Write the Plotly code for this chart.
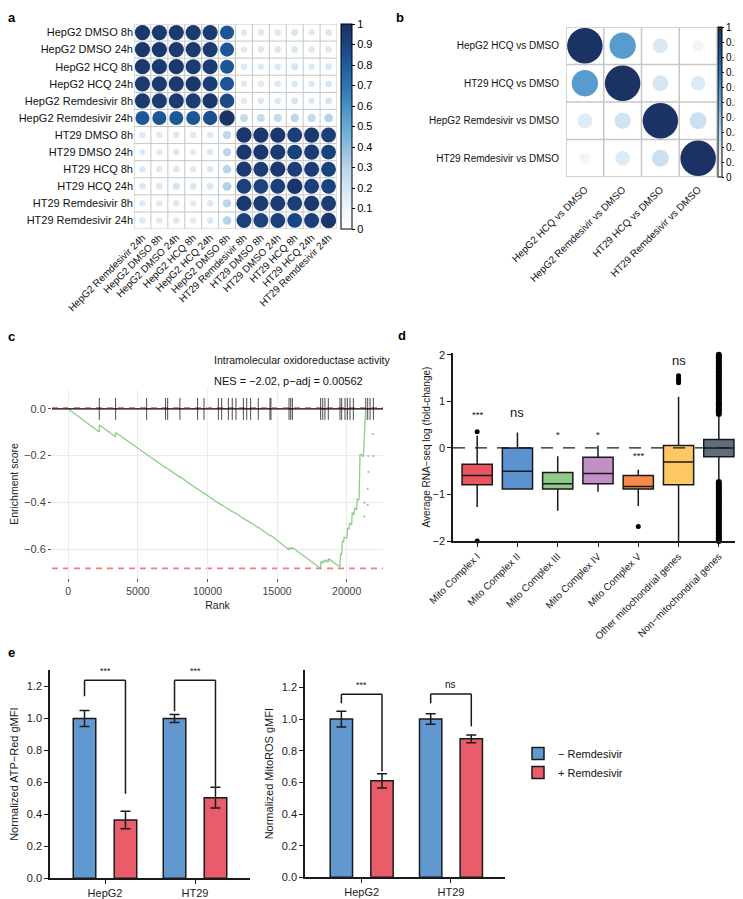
import plotly.graph_objects as go

# page is 743x899; the plot div sits 8px in from the page corner
PAGE_W, PAGE_H = 743, 899
OFF = 8
W, H = PAGE_W - OFF, PAGE_H - OFF
FONT = "Arial, Liberation Sans, Helvetica, sans-serif"

# ---------------- data: panel a ----------------
a_rows = ["HepG2 DMSO 8h", "HepG2 DMSO 24h", "HepG2 HCQ 8h", "HepG2 HCQ 24h",
          "HepG2 Remdesivir 8h", "HepG2 Remdesivir 24h", "HT29 DMSO 8h", "HT29 DMSO 24h",
          "HT29 HCQ 8h", "HT29 HCQ 24h", "HT29 Remdesivir 8h", "HT29 Remdesivir 24h"]
a_cols = ["HepG2 Remdesivir 24h", "HepG2 DMSO 8h", "HepG2 DMSO 24h", "HepG2 HCQ 8h",
          "HepG2 HCQ 24h", "HepG2 DMSO 8h", "HT29 Remdesivir 8h", "HT29 DMSO 8h",
          "HT29 DMSO 24h", "HT29 HCQ 8h", "HT29 HCQ 24h", "HT29 Remdesivir 24h"]
a_corr = [
    [0.97, 0.96, 0.96, 0.96, 0.95, 0.83, 0.17, 0.18, 0.18, 0.20, 0.18, 0.19],
    [0.97, 0.97, 0.96, 0.96, 0.95, 0.83, 0.17, 0.18, 0.18, 0.19, 0.18, 0.18],
    [0.97, 0.96, 0.97, 0.95, 0.95, 0.82, 0.18, 0.18, 0.18, 0.20, 0.18, 0.19],
    [0.96, 0.96, 0.96, 0.97, 0.94, 0.83, 0.17, 0.17, 0.18, 0.19, 0.18, 0.19],
    [0.96, 0.95, 0.95, 0.94, 0.98, 0.88, 0.17, 0.18, 0.18, 0.20, 0.18, 0.20],
    [0.82, 0.83, 0.82, 0.82, 0.86, 0.99, 0.26, 0.26, 0.27, 0.29, 0.27, 0.31],
    [0.17, 0.17, 0.18, 0.17, 0.18, 0.28, 0.98, 0.97, 0.97, 0.93, 0.96, 0.93],
    [0.17, 0.17, 0.18, 0.17, 0.18, 0.29, 0.97, 0.97, 0.96, 0.92, 0.95, 0.92],
    [0.18, 0.17, 0.18, 0.17, 0.18, 0.30, 0.96, 0.94, 0.97, 0.93, 0.94, 0.92],
    [0.18, 0.18, 0.21, 0.19, 0.19, 0.32, 0.92, 0.91, 0.93, 0.98, 0.92, 0.91],
    [0.17, 0.17, 0.18, 0.17, 0.18, 0.30, 0.97, 0.95, 0.95, 0.93, 0.97, 0.94],
    [0.17, 0.17, 0.18, 0.17, 0.18, 0.31, 0.92, 0.91, 0.92, 0.90, 0.93, 0.98],
]

# ---------------- data: panel b ----------------
b_rows = ["HepG2 HCQ vs DMSO", "HT29 HCQ vs DMSO", "HepG2 Remdesivir vs DMSO", "HT29 Remdesivir vs DMSO"]
b_cols = ["HepG2 HCQ vs DMSO", "HepG2 Remdesivir vs DMSO", "HT29 HCQ vs DMSO", "HT29 Remdesivir vs DMSO"]
b_corr = [
    [1.00, 0.55, 0.18, 0.10],
    [0.55, 1.00, 0.20, 0.17],
    [0.17, 0.21, 1.00, 0.23],
    [0.10, 0.17, 0.23, 1.00],
]
cbar_ticks = [0, 0.1, 0.2, 0.3, 0.4, 0.5, 0.6, 0.7, 0.8, 0.9, 1]
cbar_text = ["0", "0.1", "0.2", "0.3", "0.4", "0.5", "0.6", "0.7", "0.8", "0.9", "1"]

# ---------------- data: panel c ----------------
c_title = "Intramolecular oxidoreductase activity"
c_subtitle = "NES = \u22122.02, p\u2212adj = 0.00562"
c_xticks = [0, 5000, 10000, 15000, 20000]
es_rank = [0, 2228, 2228, 3400, 3400, 5630, 5630, 6990, 6990, 7140, 7140, 8020, 8020,
           9290, 9290, 9750, 9750, 10780, 10780, 11020, 11020, 11500, 11500, 11780, 11780,
           12050, 12050, 12580, 12580, 12820, 12820, 13100, 13100, 13650, 13650, 14490, 14490,
           14560, 14560, 15860, 15860, 15980, 15980, 16100, 16100, 18130, 18130, 18280, 18280,
           18440, 18440, 18680, 18680, 19520, 19560, 19640, 19700, 19780, 19820, 20020, 20060,
           20170, 20200, 20360, 20400, 20530, 20580, 20720, 20760, 20890, 20960, 21030, 21200, 21370]
es_score = [0.0, -0.099, -0.069, -0.119, -0.101, -0.196, -0.194, -0.252, -0.250, -0.256, -0.254,
            -0.292, -0.290, -0.344, -0.342, -0.362, -0.360, -0.404, -0.402, -0.412, -0.410,
            -0.430, -0.428, -0.440, -0.438, -0.449, -0.447, -0.470, -0.468, -0.478, -0.476,
            -0.488, -0.486, -0.509, -0.507, -0.543, -0.541, -0.544, -0.542, -0.603, -0.595,
            -0.600, -0.594, -0.599, -0.593, -0.683, -0.655, -0.661, -0.650, -0.657, -0.646,
            -0.656, -0.641, -0.677, -0.620, -0.625, -0.565, -0.570, -0.550, -0.552, -0.510,
            -0.515, -0.490, -0.495, -0.445, -0.450, -0.425, -0.430, -0.385, -0.390, -0.195,
            -0.195, -0.205, 0.005]
es_dots_rank = [21870, 21560, 21920, 21560, 21510, 21270, 21510, 21270]
es_dots_score = [-0.108, -0.202, -0.202, -0.270, -0.342, -0.402, -0.411, -0.461]
hits = [2228, 3400, 5630, 6990, 7140, 8020, 9290, 9750, 10780, 11020, 11500, 11780, 12050,
        12580, 12820, 13100, 13650, 14490, 14560, 15860, 15980, 16100, 18130, 18280, 18440,
        18680, 19520, 19640, 19880, 20050, 20240, 20480, 21370, 21510, 21680, 21920]
rug_half = 0.047

# ---------------- data: panel d ----------------
d_cats = ["Mito Complex I", "Mito Complex II", "Mito Complex III", "Mito Complex IV",
          "Mito Complex V", "Other mitochondrial genes", "Non\u2212mitochondrial genes"]
d_q1 = [-0.79, -0.88, -0.88, -0.77, -0.88, -0.79, -0.19]
d_med = [-0.59, -0.50, -0.77, -0.55, -0.83, -0.30, 0.00]
d_q3 = [-0.35, 0.00, -0.53, -0.20, -0.59, 0.05, 0.18]
d_lo = [-1.27, -0.88, -1.35, -0.94, -1.25, -2.00, -0.72]
d_hi = [0.26, 0.33, -0.18, 0.05, -0.47, 1.10, 0.72]
d_colors = ["#e8555f", "#5b93d1", "#8cc98a", "#c28fc6", "#f58c4b", "#fdc864", "#5e6e7c"]
d_sig = ["***", "ns", "*", "*", "***", "ns"]
d_sig_y = [0.55, 0.55, 0.13, 0.13, -0.33, 1.68]
d_out_cat = [1, 1, 5, 6, 6, 6, 6]
d_out_val = [0.35, -2.0, -1.69, 1.40, 1.45, 1.50, 1.55]
d_nonmito_out = [0.73, 0.77, 0.81, 0.85, 0.90, 0.94, 0.98, 1.03, 1.07, 1.12, 1.16, 1.20, 1.25,
                 1.29, 1.34, 1.38, 1.43, 1.47, 1.52, 1.56, 1.61, 1.65, 1.70, 1.74, 1.79, 1.83,
                 1.88, 1.92, 1.96, 2.00,
                 -0.73, -0.77, -0.81, -0.85, -0.90, -0.94, -0.98, -1.03, -1.07, -1.12, -1.16,
                 -1.20, -1.25, -1.29, -1.34, -1.38, -1.43, -1.47, -1.52, -1.56, -1.61, -1.65,
                 -1.70, -1.74, -1.79, -1.83, -1.88, -1.92, -1.96, -2.00]

# ---------------- data: panel e ----------------
e_groups = ["HepG2", "HT29"]
atp_minus = [1.00, 1.00]
atp_minus_err = [0.050, 0.025]
atp_plus = [0.365, 0.505]
atp_plus_err = [0.055, 0.065]
ros_minus = [1.00, 1.00]
ros_minus_err = [0.050, 0.033]
ros_plus = [0.61, 0.875]
ros_plus_err = [0.045, 0.025]
atp_sig = ["***", "***"]
atp_br = [(1.14, 1.24, 0.53), (1.045, 1.24, 0.575)]   # left leg bottom, top, right leg bottom
ros_sig = ["***", "ns"]
ros_br = [(1.10, 1.156, 0.67), (1.10, 1.158, 0.955)]
legend_names = ["\u2212 Remdesivir", "+ Remdesivir"]
BLUE = "#6298d0"
RED = "#e95d6a"

# ---------------- helpers (page pixels -> paper fractions) ----------------
def px(x):
    return (x - OFF) / W


def py(y):
    return 1 - (y - OFF) / H


def xd(x0, x1):
    return [px(x0), px(x1)]


def yd(y0, y1):
    return [py(y1), py(y0)]


CSCALE = [[0.0, "#ffffff"], [0.1, "#eef5fb"], [0.2, "#d4e6f4"], [0.3, "#b7d5eb"],
          [0.4, "#8ebfe0"], [0.5, "#66a8d4"], [0.6, "#4890c6"], [0.7, "#2f74b3"],
          [0.8, "#1f5c9e"], [0.9, "#1b4582"], [1.0, "#1b3264"]]

fig = go.Figure()
shapes = []
annots = []

# ---------------- panel a ----------------
ax_, ay_, ac_, asz = [], [], [], []
for i, row in enumerate(a_corr):
    for j, v in enumerate(row):
        ax_.append(j + 1)
        ay_.append(i + 1)
        ac_.append(v)
        asz.append(15.5 * abs(v) ** 0.5)
fig.add_trace(go.Scatter(
    x=ax_, y=ay_, mode="markers", xaxis="x", yaxis="y", showlegend=False,
    marker=dict(size=asz, color=ac_, colorscale=CSCALE, cmin=0, cmax=1, line=dict(width=0),
                opacity=1, showscale=True,
                colorbar=dict(x=px(341), xanchor="left", y=py(24), yanchor="top",
                              len=205, lenmode="pixels", thickness=11, thicknessmode="pixels",
                              xpad=0, ypad=0, outlinecolor="black", outlinewidth=1,
                              tickvals=cbar_ticks, ticktext=cbar_text, ticks="outside",
                              ticklen=3, tickcolor="black", tickfont=dict(size=11, color="black"))),
))
na = len(a_rows)
for k in range(na + 1):
    shapes.append(dict(type="line", xref="x", yref="y", x0=k + 0.5, x1=k + 0.5, y0=0.5, y1=na + 0.5,
                       line=dict(color="#c6c6c6", width=1), layer="below"))
    shapes.append(dict(type="line", xref="x", yref="y", y0=k + 0.5, y1=k + 0.5, x0=0.5, x1=na + 0.5,
                       line=dict(color="#c6c6c6", width=1), layer="below"))

# ---------------- panel b ----------------
bx_, by_, bc_, bsz = [], [], [], []
for i, row in enumerate(b_corr):
    for j, v in enumerate(row):
        bx_.append(j + 1)
        by_.append(i + 1)
        bc_.append(v)
        bsz.append(35.5 * abs(v) ** 0.5)
fig.add_trace(go.Scatter(
    x=bx_, y=by_, mode="markers", xaxis="x2", yaxis="y2", showlegend=False,
    marker=dict(size=bsz, color=bc_, colorscale=CSCALE, cmin=0, cmax=1, line=dict(width=0),
                opacity=1, showscale=True,
                colorbar=dict(x=px(718), xanchor="left", y=py(27), yanchor="top",
                              len=150, lenmode="pixels", thickness=4, thicknessmode="pixels",
                              xpad=0, ypad=0, outlinecolor="black", outlinewidth=1,
                              tickvals=cbar_ticks, ticktext=cbar_text, ticks="outside",
                              ticklen=2, tickcolor="black", tickfont=dict(size=10, color="black"))),
))
nb = len(b_rows)
for k in range(nb + 1):
    shapes.append(dict(type="line", xref="x2", yref="y2", x0=k + 0.5, x1=k + 0.5, y0=0.5, y1=nb + 0.5,
                       line=dict(color="#c6c6c6", width=1.5), layer="below"))
    shapes.append(dict(type="line", xref="x2", yref="y2", y0=k + 0.5, y1=k + 0.5, x0=0.5, x1=nb + 0.5,
                       line=dict(color="#c6c6c6", width=1.5), layer="below"))

# ---------------- panel c ----------------
es_max, es_min = max(es_score), min(es_score)
shapes.append(dict(type="line", xref="x3 domain", yref="y3", x0=0, x1=1, y0=es_max, y1=es_max,
                   line=dict(color="#f27a80", width=1.6, dash="6px,5px"), layer="below"))
shapes.append(dict(type="line", xref="x3 domain", yref="y3", x0=0, x1=1, y0=es_min, y1=es_min,
                   line=dict(color="#f27a80", width=1.6, dash="6px,5px"), layer="below"))
rx, ry = [], []
for h in hits:
    rx += [h, h, None]
    ry += [-rug_half, rug_half, None]
fig.add_trace(go.Scatter(x=rx, y=ry, mode="lines", xaxis="x3", yaxis="y3", showlegend=False,
                         line=dict(color="rgba(30,30,30,0.8)", width=1)))
shapes.append(dict(type="line", xref="x3 domain", yref="y3", x0=0, x1=1, y0=0, y1=0,
                   line=dict(color="black", width=1.3), layer="above"))
fig.add_trace(go.Scatter(x=es_rank, y=es_score, mode="lines", xaxis="x3", yaxis="y3",
                         showlegend=False, line=dict(color="#8fcd89", width=1.3)))
fig.add_trace(go.Scatter(x=es_dots_rank, y=es_dots_score, mode="markers", xaxis="x3", yaxis="y3",
                         showlegend=False, marker=dict(color="#8fcd89", size=2.2)))
annots.append(dict(text=c_title, x=px(212), y=py(360), xref="paper", yref="paper",
                   showarrow=False, font=dict(size=10.5, color="#111")))
annots.append(dict(text=c_subtitle, x=px(212), y=py(381), xref="paper", yref="paper",
                   showarrow=False, font=dict(size=11, color="#111")))

# ---------------- panel d ----------------
for i in range(len(d_cats)):
    fig.add_trace(go.Box(x=[i + 1], q1=[d_q1[i]], median=[d_med[i]], q3=[d_q3[i]],
                         lowerfence=[d_lo[i]], upperfence=[d_hi[i]], xaxis="x4", yaxis="y4",
                         fillcolor=d_colors[i], line=dict(color="#1a1a1a", width=1.5),
                         width=0.75, whiskerwidth=0, boxpoints=False, showlegend=False))
fig.add_trace(go.Scatter(x=d_out_cat, y=d_out_val, mode="markers", xaxis="x4", yaxis="y4",
                         showlegend=False, cliponaxis=False, marker=dict(color="black", size=5)))
fig.add_trace(go.Scatter(x=[len(d_cats)] * len(d_nonmito_out), y=d_nonmito_out, mode="markers",
                         xaxis="x4", yaxis="y4", showlegend=False, cliponaxis=False,
                         marker=dict(color="black", size=6)))
shapes.append(dict(type="line", xref="x4 domain", yref="y4", x0=0, x1=1, y0=0, y1=0,
                   line=dict(color="#1a1a1a", width=1.3, dash="12px,10px"), layer="above"))
for i, s in enumerate(d_sig):
    big = s == "ns"
    annots.append(dict(text=s, x=i + 1, y=d_sig_y[i], xref="x4", yref="y4", showarrow=False,
                       yanchor="bottom", font=dict(size=13 if big else 9.5, color="#111")))

# ---------------- panel e ----------------
BAR_OFF = 0.2275
gx = list(range(len(e_groups)))
fig.add_trace(go.Bar(x=gx, y=atp_minus, name=legend_names[0], xaxis="x5", yaxis="y5",
                     marker=dict(color=BLUE, line=dict(color="#1a1a1a", width=1.5)),
                     error_y=dict(type="data", array=atp_minus_err, color="#1a1a1a", thickness=1.5, width=5),
                     legendgroup="m", showlegend=True))
fig.add_trace(go.Bar(x=gx, y=atp_plus, name=legend_names[1], xaxis="x5", yaxis="y5",
                     marker=dict(color=RED, line=dict(color="#1a1a1a", width=1.5)),
                     error_y=dict(type="data", array=atp_plus_err, color="#1a1a1a", thickness=1.5, width=5),
                     legendgroup="p", showlegend=True))
fig.add_trace(go.Bar(x=gx, y=ros_minus, name=legend_names[0], xaxis="x6", yaxis="y6",
                     marker=dict(color=BLUE, line=dict(color="#1a1a1a", width=1.5)),
                     error_y=dict(type="data", array=ros_minus_err, color="#1a1a1a", thickness=1.5, width=5),
                     legendgroup="m", showlegend=False))
fig.add_trace(go.Bar(x=gx, y=ros_plus, name=legend_names[1], xaxis="x6", yaxis="y6",
                     marker=dict(color=RED, line=dict(color="#1a1a1a", width=1.5)),
                     error_y=dict(type="data", array=ros_plus_err, color="#1a1a1a", thickness=1.5, width=5),
                     legendgroup="p", showlegend=False))
for xa, ya, brs, sigs in (("x5", "y5", atp_br, atp_sig), ("x6", "y6", ros_br, ros_sig)):
    for g, (lb, top, rb) in enumerate(brs):
        xl, xr = g - BAR_OFF, g + BAR_OFF
        for (x0, y0, x1, y1) in ((xl, lb, xl, top), (xl, top, xr, top), (xr, top, xr, rb)):
            shapes.append(dict(type="line", xref=xa, yref=ya, x0=x0, y0=y0, x1=x1, y1=y1,
                               line=dict(color="#1a1a1a", width=1.5)))
        annots.append(dict(text=sigs[g], x=g, y=top + 0.012, xref=xa, yref=ya, showarrow=False,
                           yanchor="bottom", font=dict(size=10 if sigs[g] == "ns" else 9, color="#111")))

# ---------------- panel letters ----------------
for lab, lx, ly, anc in (("a", 12, OFF, "top"), ("b", 400, OFF, "top"), ("c", 12, 336, "middle"),
                         ("d", 402, 335, "middle"), ("e", 12, 652, "middle")):
    annots.append(dict(text="<b>%s</b>" % lab, x=px(lx), y=py(ly), xref="paper", yref="paper",
                       showarrow=False, xanchor="center", yanchor=anc,
                       font=dict(size=13, color="black")))

# ---------------- layout ----------------
cat_axis = dict(showgrid=False, zeroline=False, showline=False, ticks="", fixedrange=True,
                automargin=False)
lin_axis = dict(showgrid=False, zeroline=False, showline=True, linecolor="#1a1a1a", linewidth=1.5,
                ticks="outside", ticklen=4, tickwidth=1.2, tickcolor="#1a1a1a",
                tickfont=dict(size=11, color="#1a1a1a"), automargin=False)

fig.update_layout(
    width=W, height=H, margin=dict(l=0, r=0, t=0, b=0, autoexpand=False),
    paper_bgcolor="white", plot_bgcolor="white",
    font=dict(family=FONT, color="#111"),
    barmode="group", bargap=0.09, bargroupgap=0.45,
    shapes=shapes, annotations=annots,
    legend=dict(x=px(518), y=py(739), xanchor="left", yanchor="top",
                font=dict(size=11, color="#111"), bgcolor="rgba(0,0,0,0)", tracegroupgap=0,
                itemwidth=30),
    xaxis=dict(cat_axis, domain=xd(134, 337), range=[0.5, na + 0.5], anchor="y",
               tickvals=list(range(1, na + 1)), ticktext=a_cols, tickangle=-45,
               tickfont=dict(size=10, color="#111")),
    yaxis=dict(cat_axis, domain=yd(24, 229), range=[na + 0.5, 0.5], anchor="x",
               tickvals=list(range(1, na + 1)), ticktext=a_rows,
               tickfont=dict(size=11, color="#111")),
    xaxis2=dict(cat_axis, domain=xd(566, 717), range=[0.5, nb + 0.5], anchor="y2",
                tickvals=list(range(1, nb + 1)), ticktext=b_cols, tickangle=-45,
                ticklabelstandoff=4, tickfont=dict(size=10, color="#111")),
    yaxis2=dict(cat_axis, domain=yd(27, 177), range=[nb + 0.5, 0.5], anchor="x2",
                tickvals=list(range(1, nb + 1)), ticktext=b_rows, ticklabelstandoff=6,
                tickfont=dict(size=10, color="#111")),
    xaxis3=dict(domain=xd(52, 383), range=[-1170, 22610], anchor="y3", showgrid=True,
                gridcolor="#ebebeb", gridwidth=1, zeroline=False, showline=False, automargin=False,
                tickvals=c_xticks, ticktext=[str(v) for v in c_xticks], ticks="outside", ticklen=3,
                tickcolor="#555", tickfont=dict(size=10.5, color="#444"),
                title=dict(text="Rank", font=dict(size=10.5, color="#222"), standoff=6)),
    yaxis3=dict(domain=yd(390, 578), range=[-0.724, 0.081], anchor="x3", showgrid=True,
                gridcolor="#ebebeb", gridwidth=1, zeroline=False, showline=False, automargin=False,
                tickvals=[0, -0.2, -0.4, -0.6], ticktext=["0.0", "\u22120.2", "\u22120.4", "\u22120.6"],
                ticks="outside", ticklen=3, tickcolor="#555", tickfont=dict(size=11, color="#444"),
                title=dict(text="Enrichment score", font=dict(size=10.5, color="#222"), standoff=6)),
    xaxis4=dict(lin_axis, domain=xd(453, 743), range=[0.4, len(d_cats) + 0.6], anchor="y4",
                tickvals=list(range(1, len(d_cats) + 1)), ticktext=d_cats, tickangle=-45,
                tickfont=dict(size=10, color="#1a1a1a")),
    yaxis4=dict(lin_axis, domain=yd(353, 541), range=[-2.0, 2.04], anchor="x4",
                tickvals=[-2, -1, 0, 1, 2], ticktext=["\u22122", "\u22121", "0", "1", "2"],
                title=dict(text="Average RNA\u2212seq log (fold-change)", font=dict(size=10, color="#1a1a1a"),
                           standoff=0)),
    xaxis5=dict(lin_axis, domain=xd(50, 250), range=[-0.611, 1.611], anchor="y5",
                tickvals=gx, ticktext=e_groups),
    yaxis5=dict(lin_axis, domain=yd(670, 878.3), range=[0, 1.304], anchor="x5",
                tickvals=[0, 0.2, 0.4, 0.6, 0.8, 1.0, 1.2], tickformat=".1f",
                title=dict(text="Normalized ATP\u2212Red gMFI", font=dict(size=11, color="#1a1a1a"),
                           standoff=6)),
    xaxis6=dict(lin_axis, domain=xd(305, 505), range=[-0.635, 1.605], anchor="y6",
                tickvals=gx, ticktext=e_groups),
    yaxis6=dict(lin_axis, domain=yd(670, 877.3), range=[0, 1.31], anchor="x6",
                tickvals=[0, 0.2, 0.4, 0.6, 0.8, 1.0, 1.2], tickformat=".1f",
                title=dict(text="Normalized MitoROS gMFI", font=dict(size=11, color="#1a1a1a"),
                           standoff=6)),
)

fig.write_html("out.html")
